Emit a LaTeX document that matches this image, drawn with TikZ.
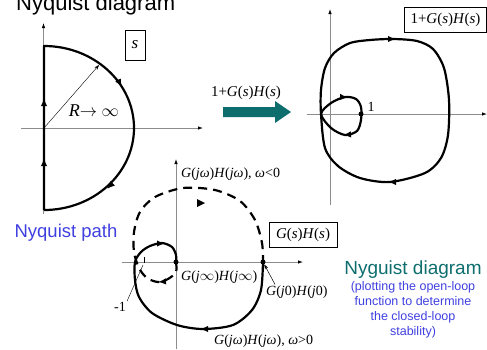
\documentclass[tikz,border=0pt]{standalone}
\usepackage{fontspec}
\setmainfont{Liberation Serif}
\setsansfont{Liberation Sans}
\usetikzlibrary{arrows.meta,decorations.markings}
\definecolor{tealc}{RGB}{14,110,110}
\definecolor{bluec}{RGB}{64,64,224}
\definecolor{axisc}{RGB}{140,140,140}
\begin{document}
\begin{tikzpicture}[x=1pt,y=1pt,
  axis/.style={axisc,line width=0.8pt,-{Latex[length=5pt,width=3.5pt,color=black]}},
  curve/.style={line width=2.2pt,black,line join=round},
  dcurve/.style={curve,dash pattern=on 9pt off 6pt},
  tip/.style={line width=2.2pt,-{Latex[length=8pt,width=6.5pt]}},
  lbl/.style={font=\fontsize{14}{16}\selectfont,inner sep=1pt},
  boxlbl/.style={draw,line width=0.6pt,font=\fontsize{15}{17}\selectfont,inner sep=3pt},
  dot/.style={circle,fill=black,inner sep=0pt,minimum size=5pt}
]
\useasboundingbox (0,0) rectangle (487,-349);

% title
\node[anchor=base west,font=\sffamily\fontsize{22}{24}\selectfont,inner sep=0pt] (title) at (16,-10) {Nyquist diagram};

% ---------- s-plane ----------
\draw[axis] (43.5,-214) -- (43.5,-23);
\draw[axis] (21,-128) -- (203,-128);
\coordinate (sc) at (44,-128);
\coordinate (stop) at (44,-46);
\coordinate (sbot) at (44,-210);
\draw[curve] (sbot) -- (stop) arc[start angle=90,end angle=-90,x radius=90,y radius=82];
\draw[tip] (44,-165) -- (44,-158);
\draw[tip] (44,-105) -- (44,-98);
\draw[tip] (118,-80) -- (122,-87);
\draw[tip] (112,-184) -- (107,-189);
\coordinate (rtip) at (99,-65);
\draw[line width=0.4pt,-{Stealth[length=5pt,width=3.5pt]}] (sc) -- (rtip);
\node[font=\fontsize{18}{20}\selectfont,inner sep=0pt] (rlab) at (94,-111) {\textit{R}$\rightarrow$ $\infty$};
\node[boxlbl,font=\fontsize{17}{19}\selectfont\itshape,minimum width=20pt,minimum height=30pt] (sbox) at (135,-45) {s};

% ---------- teal arrow ----------
\fill[tealc] (223,-107) -- (275,-107) -- (275,-101) -- (291,-112) -- (275,-123) -- (275,-117) -- (223,-117) -- cycle;
\node[lbl,font=\fontsize{15}{17}\selectfont] (map) at (246,-93) {1+\textit{G}(\textit{s})\textit{H}(\textit{s})};

% ---------- 1+GH plane ----------
\draw[axis] (330,-205) -- (330,-9);
\draw[axis] (307,-114) -- (487,-114);
\draw[curve] plot[smooth cycle] coordinates {(321,-114) (321,-90) (325,-68) (334,-53) (350,-43) (370,-40) (393,-39) (417,-41) (433,-49) (444,-68) (449,-100) (448,-135) (441,-158) (425,-173) (390,-182) (360,-178) (338,-166) (325,-148)};
\draw[curve] plot[smooth cycle] coordinates {(321,-114) (331,-103) (345,-97) (356,-99) (361,-107) (361,-120) (357,-131) (345,-135) (331,-128)};
\draw[tip] (388,-39) -- (396,-39);
\draw[tip] (396,-182) -- (388,-182);
\draw[tip] (341,-97) -- (348,-97.5);
\draw[tip] (350,-134.5) -- (343,-135);
\node[dot] (one) at (361,-114) {};
\node[lbl] (onelbl) at (371,-107) {1};
\node[boxlbl,minimum width=82pt,minimum height=25pt] (ghbox1) at (445.5,-19.5) {1+\textit{G}(\textit{s})\textit{H}(\textit{s})};

% ---------- GH plane ----------
\draw[axis] (176,-349) -- (176,-159);
\draw[axis] (122,-262) -- (303,-262);
\draw[dcurve] plot[smooth] coordinates {(176,-262) (176,-272) (168,-279) (158,-282) (147,-278) (139,-268) (134,-252) (134,-232) (140,-212) (155,-197) (183,-188) (215,-190) (240,-201) (255,-220) (262,-243) (263,-262)};
\draw[curve] plot[smooth] coordinates {(263,-262) (261,-290) (252,-310) (233,-325) (203,-329) (177,-325) (152,-313) (139,-297) (135,-280) (135,-262) (141,-252) (150,-246) (162,-243) (172,-247) (176,-255) (176,-262)};
\draw[tip] (207,-329) -- (200,-329);
\draw[tip] (157,-243.5) -- (165,-243.5);
\draw[tip] (165,-281.5) -- (158,-282);
\fill (197,-199) -- (205,-203) -- (197,-207) -- cycle;
\node[dot] (ginf) at (176,-262) {};
\node[dot] (gzero) at (263,-262) {};
\draw[line width=0.5pt] (144,-257) -- (144,-263);
\node[lbl,anchor=west] (lneg) at (180,-174) {\textit{G}(\textit{jω})\textit{H}(\textit{jω}), \textit{ω}<0};
\node[lbl,anchor=west] (lpos) at (213,-341) {\textit{G}(\textit{jω})\textit{H}(\textit{jω}), \textit{ω}>0};
\node[lbl,anchor=west] (linf) at (180,-277) {\textit{G}(\textit{j}$\infty$)\textit{H}(\textit{j}$\infty$)};
\node[lbl,anchor=west] (lzero) at (265,-292) {\textit{G}(\textit{j}0)\textit{H}(\textit{j}0)};
\node[lbl] (lm1) at (120,-307) {-1};
\coordinate (m1) at (143,-265);
\draw[line width=0.4pt] (lm1.north east) -- (m1);
\draw[line width=0.5pt,-{Stealth[length=5pt,width=3.5pt]}] (lzero.north west) ++(10,0) -- (gzero);
\node[boxlbl,minimum width=68pt,minimum height=25pt] (ghbox) at (303,-234.5) {\textit{G}(\textit{s})\textit{H}(\textit{s})};

% ---------- captions ----------
\node[font=\sffamily\fontsize{18.5}{20}\selectfont,text=bluec,inner sep=0pt] (npath) at (66,-233) {Nyquist path};
\node[font=\sffamily\fontsize{19}{21}\selectfont,text=tealc,inner sep=0pt] (ndiag) at (413,-270) {Nyguist diagram};
\node[font=\sffamily\fontsize{12.5}{15}\selectfont,text=bluec,align=center,inner sep=0pt,anchor=north] (ncap) at (413,-281) {(plotting the open-loop\\function to determine\\the closed-loop\\stability)};
\end{tikzpicture}
\end{document}
